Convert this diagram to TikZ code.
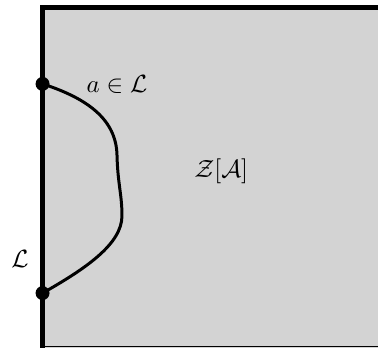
\documentclass[tikz,border=0pt]{standalone}
\usetikzlibrary{positioning}

\definecolor{regiongray}{HTML}{D3D3D3}

\tikzset{
  dot/.style={circle, fill=black, inner sep=0pt, minimum size=5.6pt},
  wall/.style={line width=2pt},
  arc line/.style={line width=1.2pt},
}

\begin{document}
\begin{tikzpicture}
\useasboundingbox (0,0) rectangle (5.33,4.893);
% region
\fill[regiongray] (0.6,-0.1) rectangle (5.5,4.79);
\draw[thin] (0.6,0.005) -- (5.5,0.005);
\draw[wall] (0.6,-0.1) -- (0.6,4.79) -- (5.5,4.79);
% points on the boundary
\node[dot] (top) at (0.6,3.71) {};
\node[dot] (bot) at (0.6,0.76) {};
% curve
\draw[arc line] (top.center) .. controls (1.25,3.50) and (1.64,3.20) .. (1.65,2.70)
  .. controls (1.66,2.30) and (1.72,2.15) .. (1.72,1.85)
  .. controls (1.72,1.45) and (1.20,1.10) .. (bot.center);
% labels
\node (alab) at (1.65,3.70) {$a\in\mathcal{L}$};
\node (llab) at (0.28,1.24) {$\mathcal{L}$};
\node (zlab) at (3.12,2.48) {$\mathcal{Z}[\mathcal{A}]$};
\end{tikzpicture}
\end{document}
